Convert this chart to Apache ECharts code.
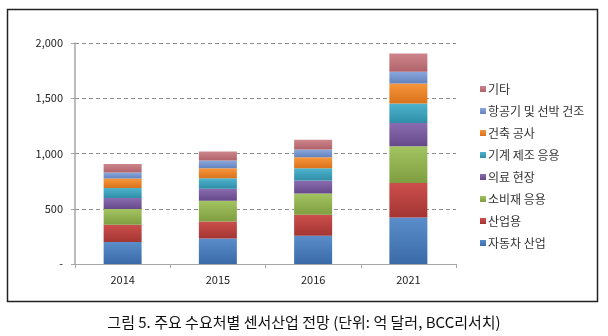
<!DOCTYPE html>
<html><head><meta charset="utf-8">
<script src="https://cdn.jsdelivr.net/npm/echarts@6/dist/echarts.min.js"></script>
<style>html,body{margin:0;padding:0;background:#fff}#c{width:608px;height:336px}</style>
</head><body><div id="c"></div>
<script>
var categories = ['2014', '2015', '2016', '2021'];
var seriesNames = ['자동차 산업', '산업용', '소비재 응용', '의료 현장', '기계 제조 응용', '건축 공사', '항공기 및 선박 건조', '기타'];
var auto      = [200, 230, 255, 421];
var industry  = [155, 155, 190, 313];
var consumer  = [142, 188, 194, 332];
var medical   = [100, 109, 116, 209];
var machinery = [91, 93, 111, 177];
var building  = [85, 91, 100, 182];
var aerospace = [54, 70, 70, 105];
var others    = [79, 82, 89, 167];
var yTicks = [0, 500, 1000, 1500, 2000];
var caption = '그림 5. 주요 수요처별 센서산업 전망 (단위: 억 달러, BCC리서치)';

var values = [auto, industry, consumer, medical, machinery, building, aerospace, others];
var colors = [
  ['#5B8DCB', '#3A6BA8'],
  ['#CC4F4C', '#A33533'],
  ['#A3C461', '#7F9E41'],
  ['#8A6DB0', '#66498A'],
  ['#4FB4CE', '#2F8EA8'],
  ['#F7963C', '#D9721C'],
  ['#8AA8DC', '#6483BE'],
  ['#CE858C', '#B0626A']
];
var font = '"Noto Sans CJK KR", "Noto Sans", sans-serif';
var chart = echarts.init(document.getElementById('c'));
var series = seriesNames.map(function (n, i) {
  return {
    name: n, type: 'bar', stack: 's', barWidth: 38, data: values[i],
    itemStyle: { color: new echarts.graphic.LinearGradient(0, 0, 0, 1, [
      { offset: 0, color: colors[i][0] }, { offset: 1, color: colors[i][1] }]) }
  };
});
chart.setOption({
  animation: false,
  color: colors.map(function (c) { return c[0]; }),
  grid: { left: 75, right: 152, top: 43, bottom: 72 },
  xAxis: {
    type: 'category', data: categories,
    axisLine: { lineStyle: { color: '#A6A6A6', width: 1 } },
    axisTick: { show: true, length: 4, lineStyle: { color: '#A6A6A6' } },
    axisLabel: { color: '#222', fontSize: 11, fontFamily: font, margin: 10 }
  },
  yAxis: {
    type: 'value', min: 0, max: 2000, interval: 500,
    axisLine: { show: true, lineStyle: { color: '#A6A6A6', width: 1.5 } },
    axisTick: { show: true, length: 4, inside: false, lineStyle: { color: '#A6A6A6' } },
    splitLine: { lineStyle: { color: '#8C8C8C', type: [4, 3], width: 1 } },
    axisLabel: {
      color: '#222', fontSize: 11, fontFamily: font, margin: 12,
      formatter: function (v) { return yTicks.indexOf(v) < 0 ? '' : (v === 0 ? '-' : v.toLocaleString('en-US')); }
    }
  },
  legend: {
    orient: 'vertical', left: 475, top: 78,
    data: seriesNames.slice().reverse(),
    itemWidth: 6, itemHeight: 6, itemGap: 10, icon: 'rect',
    textStyle: { fontSize: 12, lineHeight: 12, color: '#333', fontFamily: font, padding: [0, 0, 0, -3] }
  },
  title: {
    text: caption, left: 'center', top: 310,
    textStyle: { fontSize: 15, fontWeight: 'normal', color: '#111', fontFamily: font }
  },
  graphic: [{
    type: 'rect', shape: { x: 7.5, y: 9.5, width: 590, height: 292 },
    style: { fill: 'none', stroke: '#222', lineWidth: 1.5 }, z: -1
  }],
  series: series
});
</script></body></html>
